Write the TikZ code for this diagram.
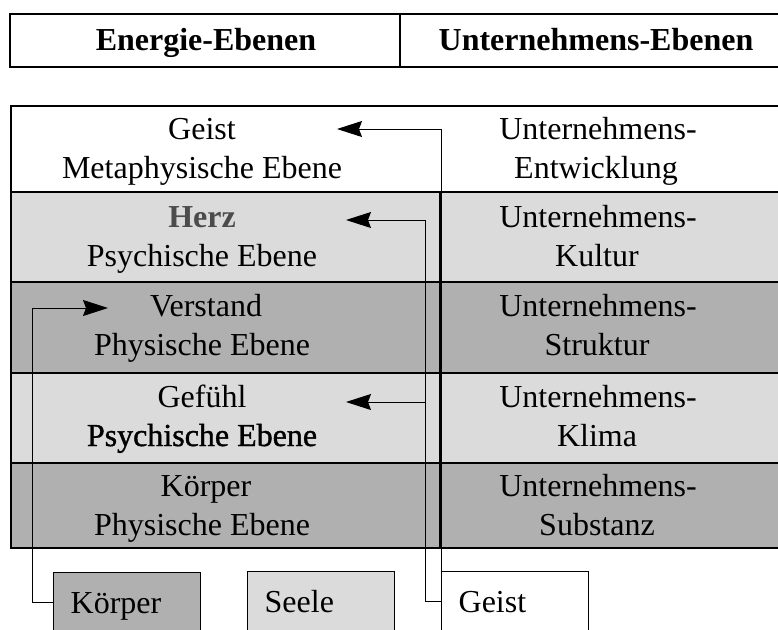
\documentclass[tikz,border=0pt]{standalone}
\usepackage{fontspec}
\setmainfont{Liberation Serif}
\newfontfamily\heavyserif[FakeBold=1.2]{Liberation Serif}
\usetikzlibrary{arrows.meta}
\definecolor{lightrow}{gray}{0.86}
\definecolor{darkrow}{gray}{0.69}
\definecolor{herzgray}{gray}{0.30}
\begin{document}
\begin{tikzpicture}[x=1pt,y=-1pt,
  txt/.style={font=\fontsize{32}{39}\selectfont, inner sep=0pt, anchor=base},
  hdr/.style={font=\fontsize{32}{39}\selectfont\bfseries, inner sep=0pt, anchor=base},
  rule/.style={line width=2.4pt},
  thinrule/.style={line width=1.4pt},
  link/.style={line width=1pt},
  arr/.style={link, -{Stealth[length=25pt,width=16pt,inset=3pt]}},
  smallbox/.style={draw, line width=1.3pt, anchor=north west,
    minimum width=147pt, minimum height=68pt, text width=113pt,
    inner xsep=17pt, inner ysep=0pt, align=left,
    text height=22pt, text depth=8pt,
    font=\fontsize{32}{39}\selectfont}]
\clip (0,0) rectangle (778,629);
\useasboundingbox (0,0) rectangle (778,629);

% heading bar
\draw[rule] (10,14) rectangle (784,67);
\draw[thinrule] (400,14) -- (400,67);
\node[hdr] (hEnergie) at (206,50) {Energie-Ebenen};
\node[hdr] (hUnternehmen) at (596,50) {Unternehmens-Ebenen};

% level rows
\fill[lightrow] (11,192) rectangle (784,282);
\fill[darkrow]  (11,282) rectangle (784,373);
\fill[lightrow] (11,373) rectangle (784,463);
\fill[darkrow]  (11,463) rectangle (784,548);
\draw[rule] (11,106) rectangle (784,548);
\foreach \yy in {192,282,373,463} \draw[rule] (11,\yy) -- (784,\yy);
\draw[thinrule] (440,192) -- (440,548);

% left column: energy levels
\node[txt] (geistA) at (202,139) {Geist};
\node[txt] (geistB) at (202,178) {Metaphysische Ebene};
\node[txt, font=\fontsize{32}{39}\selectfont\bfseries, text=herzgray] (herzA) at (202,227) {Herz};
\node[txt] (herzB) at (202,266) {Psychische Ebene};
\node[txt] (verstandA) at (206,316) {Verstand};
\node[txt] (verstandB) at (202,355) {Physische Ebene};
\node[txt] (gefuehlA) at (202,407) {Gefühl};
\node[txt, font=\fontsize{32}{39}\heavyserif] (gefuehlB) at (202,446) {Psychische Ebene};
\node[txt] (koerperA) at (206,496) {Körper};
\node[txt] (koerperB) at (202,535) {Physische Ebene};

% right column: company levels
\node[txt] (entwA) at (598,139) {Unternehmens-};
\node[txt] (entwB) at (596,178) {Entwicklung};
\node[txt] (kultA) at (598,227) {Unternehmens-};
\node[txt] (kultB) at (597,266) {Kultur};
\node[txt] (struA) at (598,316) {Unternehmens-};
\node[txt] (struB) at (597,355) {Struktur};
\node[txt] (klimA) at (598,407) {Unternehmens-};
\node[txt] (klimB) at (597,446) {Klima};
\node[txt] (subsA) at (598,496) {Unternehmens-};
\node[txt] (subsB) at (597,535) {Substanz};

% source boxes
\node[smallbox, fill=darkrow] (koerperbox) at (53,572) {Körper};
\node[smallbox, fill=lightrow] (seelebox) at (247,571) {Seele};
\node[smallbox, fill=white] (geistbox) at (441,571) {Geist};

% arrow targets and trunks
\coordinate (tipGeist) at (337,129);
\coordinate (tipHerz) at (346,220);
\coordinate (tipGefuehl) at (346,402);
\coordinate (tipVerstand) at (108,308);
\coordinate (trunkR) at (425,0);
\coordinate (trunkL) at (32,0);
\path (geistbox.north west) ++(0,30) coordinate (geistIn);
\path (koerperbox.north west) ++(0,30) coordinate (koerperIn);

% connectors
\draw[arr] (geistbox.north west) |- (tipGeist);
\draw[arr] (geistIn) -| (trunkR |- tipHerz) -- (tipHerz);
\draw[arr] (trunkR |- tipGefuehl) -- (tipGefuehl);
\draw[arr] (koerperIn) -| (trunkL |- tipVerstand) -- (tipVerstand);
\end{tikzpicture}
\end{document}
